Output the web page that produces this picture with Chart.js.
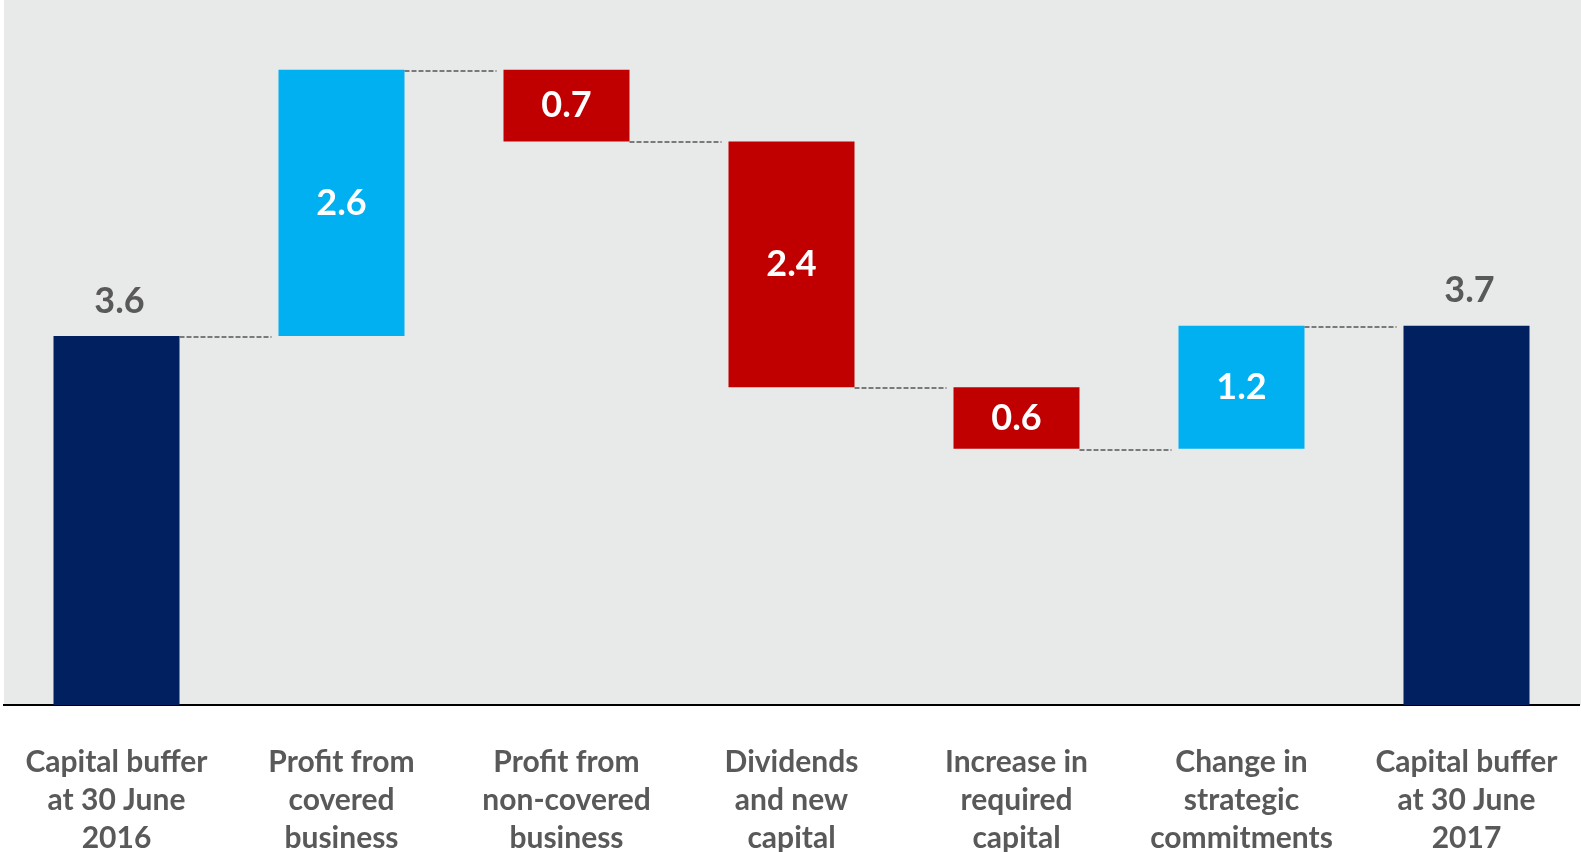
<!DOCTYPE html>
<html>
<head>
<meta charset="utf-8">
<script src="https://cdn.jsdelivr.net/npm/chart.js@4"></script>
<style>
  html, body { margin: 0; padding: 0; background: #ffffff; }
  #wrap { width: 1581px; height: 852px; }
</style>
</head>
<body>
<div id="wrap"><canvas id="bufferChart"></canvas></div>
<script>
// Capital buffer walk, 30 June 2016 -> 30 June 2017
const categories = [
  ["Capital buffer", "at 30 June", "2016"],
  ["Profit from", "covered", "business"],
  ["Profit from", "non-covered", "business"],
  ["Dividends", "and new", "capital"],
  ["Increase in", "required", "capital"],
  ["Change in", "strategic", "commitments"],
  ["Capital buffer", "at 30 June", "2017"]
];
const changes = [3.6, 2.6, -0.7, -2.4, -0.6, 1.2, 3.7];
const barTypes = ["total", "increase", "decrease", "decrease", "decrease", "increase", "total"];
const valueLabels = ["3.6", "2.6", "0.7", "2.4", "0.6", "1.2", "3.7"];

const typeColors = { total: "#002060", increase: "#00B0F0", decrease: "#C00000" };

// floating ranges for the waterfall
let running = 0;
const ranges = changes.map(function (v, i) {
  if (barTypes[i] === "total") {
    running = v;
    return [0, v];
  }
  const start = running;
  running = start + v;
  return [start, running];
});
// level each connector starts from = end of the bar
const levels = ranges.map(function (r) { return r[1]; });

const plotBackground = {
  id: "plotBackground",
  beforeDraw(chart) {
    const { ctx, chartArea } = chart;
    ctx.save();
    ctx.fillStyle = "#E8EAE9";
    ctx.fillRect(chartArea.left, 0, chart.width - chartArea.left, chartArea.bottom);
    ctx.restore();
  }
};

const connectors = {
  id: "connectors",
  afterDatasetsDraw(chart) {
    const { ctx } = chart;
    const bars = chart.getDatasetMeta(0).data;
    const y = chart.scales.y;
    ctx.save();
    ctx.strokeStyle = "#555555";
    ctx.lineWidth = 1.5;
    ctx.setLineDash([5, 2]);
    for (let i = 0; i < bars.length - 1; i++) {
      const py = Math.round(y.getPixelForValue(levels[i])) + 1;
      const x1 = bars[i].x + bars[i].width / 2;
      const x2 = bars[i + 1].x - bars[i + 1].width / 2 - 7;
      ctx.beginPath();
      ctx.moveTo(x1, py);
      ctx.lineTo(x2, py);
      ctx.stroke();
    }
    ctx.restore();
  }
};

const barValues = {
  id: "barValues",
  afterDatasetsDraw(chart) {
    const { ctx } = chart;
    const bars = chart.getDatasetMeta(0).data;
    ctx.save();
    ctx.font = "bold 36px Lato";
    ctx.textAlign = "center";
    ctx.textBaseline = "middle";
    bars.forEach(function (bar, i) {
      if (barTypes[i] === "total") {
        ctx.fillStyle = "#595959";
        ctx.fillText(valueLabels[i], bar.x + 3, bar.y - 35);
      } else {
        ctx.fillStyle = "#ffffff";
        ctx.fillText(valueLabels[i], bar.x, (bar.y + bar.base) / 2);
      }
    });
    ctx.restore();
  }
};

new Chart(document.getElementById("bufferChart").getContext("2d"), {
  type: "bar",
  data: {
    labels: categories,
    datasets: [{
      data: ranges,
      backgroundColor: barTypes.map(function (t) { return typeColors[t]; }),
      borderWidth: 0,
      barPercentage: 0.56,
      categoryPercentage: 1.0
    }]
  },
  options: {
    responsive: true,
    maintainAspectRatio: false,
    animation: false,
    layout: { padding: { left: 4, right: 2, top: 0, bottom: 0 } },
    plugins: {
      legend: { display: false },
      tooltip: { enabled: false }
    },
    scales: {
      x: {
        grid: { display: false },
        border: { display: true, color: "#000000", width: 2 },
        ticks: {
          color: "#595959",
          font: { family: "Lato", weight: "bold", size: 30, lineHeight: "38px" },
          padding: 30,
          maxRotation: 0,
          autoSkip: false
        },
        afterFit(scale) {
          scale.height = 147;
          scale.paddingLeft = 0;
          scale.paddingRight = 0;
        }
      },
      y: {
        display: false,
        min: 0,
        max: 6.88
      }
    }
  },
  plugins: [plotBackground, connectors, barValues]
});
</script>
</body>
</html>
